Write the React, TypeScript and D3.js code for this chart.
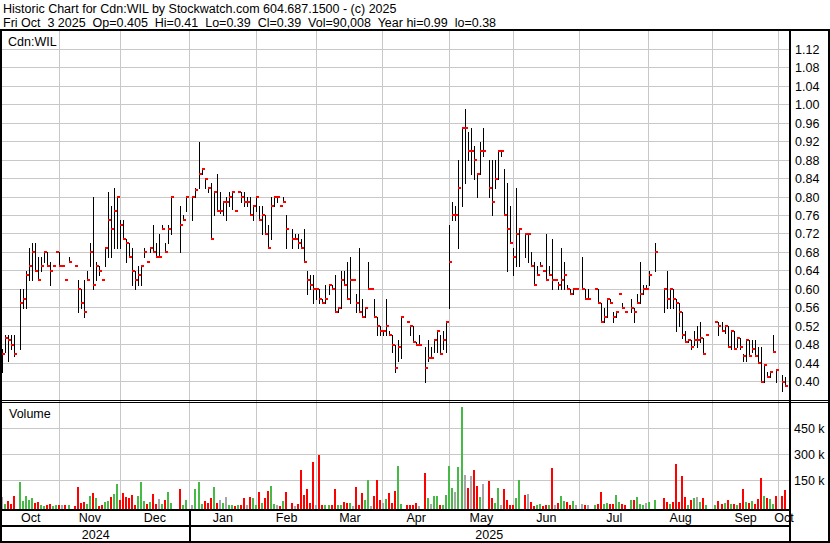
import * as d3 from "d3";

const WIDTH = 830;
const HEIGHT = 543;
const FONT = "'Liberation Sans', Arial, sans-serif";

const HEADER_LINE_1 = "Historic Chart for Cdn:WIL by Stockwatch.com 604.687.1500 - (c) 2025";
const HEADER_LINE_2 = "Fri Oct  3 2025  Op=0.405  Hi=0.41  Lo=0.39  Cl=0.39  Vol=90,008  Year hi=0.99  lo=0.38";
const SYMBOL = "Cdn:WIL";

// one slot per weekday, Oct 7 2024 .. Oct 3 2025; null = holiday / no trade
const FIRST_DAY = new Date(2024, 9, 7);
const LAST_DAY = new Date(2025, 9, 3);

const highs = [
  0.47, 0.5, 0.5, 0.5, 0.5, null, 0.6, 0.6, 0.64, 0.69,
  0.7, 0.7, 0.67, 0.67, 0.68, 0.68, 0.66, 0.65, 0.68, 0.68,
  0.65, 0.62, 0.67, null, 0.65, 0.62, 0.6, 0.62, 0.64, 0.7,
  0.8, 0.66, 0.65, 0.62, 0.69, 0.81, 0.78, 0.82, 0.8, 0.75,
  0.75, 0.71, 0.7, 0.69, 0.64, 0.65, 0.65, 0.69, 0.66, 0.69,
  0.74, 0.7, 0.72, 0.74, 0.7, 0.74, 0.8, null, null, 0.78,
  0.76, 0.8, null, 0.8, 0.82, 0.92, 0.86, 0.84, 0.82, 0.83,
  0.81, 0.85, 0.81, 0.79, 0.8, 0.81, 0.81, 0.77, 0.81, 0.81,
  0.81, 0.8, 0.8, 0.78, 0.8, 0.78, 0.78, 0.76, 0.74, 0.8,
  0.8, 0.8, 0.78, 0.8, 0.76, null, 0.73, 0.72, 0.72, 0.71,
  0.73, 0.64, 0.63, 0.63, 0.6, 0.6, 0.58, 0.61, 0.61, 0.61,
  0.63, 0.56, 0.64, 0.64, 0.66, 0.67, 0.62, 0.59, 0.69, 0.58,
  0.56, 0.66, 0.6, 0.58, 0.54, 0.52, 0.51, 0.58, 0.51, 0.5,
  0.48, 0.49, 0.54, null, 0.53, 0.52, 0.52, 0.485, 0.5, null,
  0.475, 0.49, 0.475, 0.49, 0.51, 0.5, 0.51, 0.53, 0.74, 0.79,
  0.78, 0.88, 0.95, 0.99, 0.94, 0.95, 0.91, 0.85, 0.92, 0.95,
  null, 0.88, 0.88, 0.88, 0.9, 0.9, 0.86, 0.83, 0.78, 0.69,
  0.82, 0.73, null, 0.72, 0.72, 0.68, 0.66, 0.65, 0.66, 0.64,
  0.72, 0.65, 0.71, 0.62, 0.615, 0.69, 0.66, 0.61, 0.6, 0.6,
  0.6, null, 0.67, 0.6, 0.6, null, 0.6, 0.6, 0.57, 0.56,
  0.58, 0.58, 0.55, 0.55, 0.59, 0.57, 0.55, null, 0.58, 0.56,
  0.59, 0.66, 0.61, 0.61, 0.64, null, 0.7, null, null, 0.6,
  0.64, 0.6, 0.6, 0.58, 0.57, 0.55, 0.51, 0.49, 0.49, 0.51,
  0.52, 0.53, 0.495, 0.5, null, null, 0.53, 0.53, 0.53, 0.52,
  0.52, 0.51, 0.51, 0.495, 0.495, 0.46, 0.49, 0.49, 0.49, 0.49,
  0.475, 0.475, 0.435, 0.42, 0.42, 0.5, 0.425, null, 0.415, 0.41,
];

const lows = [
  0.42, 0.465, 0.445, 0.47, 0.455, null, 0.47, 0.56, 0.56, 0.62,
  0.62, 0.64, 0.62, 0.64, 0.66, 0.65, 0.61, 0.65, 0.68, 0.65,
  0.65, 0.62, 0.66, null, 0.65, 0.55, 0.56, 0.54, 0.62, 0.65,
  0.6, 0.62, 0.63, 0.62, 0.65, 0.67, 0.67, 0.69, 0.69, 0.69,
  0.71, 0.66, 0.67, 0.61, 0.6, 0.61, 0.61, 0.67, 0.66, 0.68,
  0.68, 0.67, 0.67, 0.73, 0.68, 0.7, 0.72, null, null, 0.68,
  0.75, 0.77, null, 0.75, 0.8, 0.82, 0.85, 0.82, 0.81, 0.71,
  0.76, 0.77, 0.765, 0.76, 0.75, 0.78, 0.775, 0.77, 0.81, 0.79,
  0.78, 0.78, 0.76, 0.75, 0.77, 0.75, 0.72, 0.72, 0.69, 0.71,
  0.78, 0.79, 0.78, 0.79, 0.69, null, 0.69, 0.71, 0.69, 0.69,
  0.66, 0.59, 0.6, 0.57, 0.58, 0.57, 0.57, 0.57, 0.59, 0.6,
  0.55, 0.55, 0.56, 0.61, 0.58, 0.57, 0.62, 0.55, 0.55, 0.54,
  0.54, 0.6, 0.6, 0.54, 0.5, 0.5, 0.5, 0.5, 0.5, 0.465,
  0.42, 0.445, 0.45, null, 0.53, 0.5, 0.485, 0.48, 0.48, null,
  0.4, 0.445, 0.45, 0.465, 0.465, 0.46, 0.47, 0.465, 0.56, 0.75,
  0.75, 0.69, 0.78, 0.83, 0.88, 0.85, 0.84, 0.8, 0.85, 0.89,
  null, 0.8, 0.76, 0.82, 0.84, 0.89, 0.76, 0.64, 0.7, 0.63,
  0.65, 0.65, null, 0.67, 0.66, 0.65, 0.61, 0.63, 0.65, 0.64,
  0.62, 0.63, 0.6, 0.62, 0.6, 0.6, 0.6, 0.6, 0.59, 0.59,
  0.6, null, 0.6, 0.58, 0.58, null, 0.6, 0.57, 0.53, 0.53,
  0.54, 0.57, 0.53, 0.54, 0.59, 0.56, 0.55, null, 0.55, 0.53,
  0.57, 0.57, 0.59, 0.6, 0.61, null, 0.64, null, null, 0.55,
  0.56, 0.56, 0.56, 0.51, 0.52, 0.495, 0.485, 0.485, 0.47, 0.48,
  0.475, 0.485, 0.46, 0.5, null, null, 0.53, 0.5, 0.51, 0.505,
  0.475, 0.47, 0.47, 0.475, 0.47, 0.445, 0.445, 0.455, 0.465, 0.455,
  0.44, 0.4, 0.4, 0.41, 0.41, 0.465, 0.4, null, 0.38, 0.39,
];

const closes = [
  0.46, 0.495, 0.49, 0.48, 0.46, null, 0.57, 0.58, 0.63, 0.65,
  0.68, 0.64, 0.62, 0.65, 0.68, 0.65, 0.64, 0.65, 0.68, 0.65,
  0.65, 0.62, 0.66, null, 0.65, 0.6, 0.57, 0.55, 0.62, 0.68,
  0.61, 0.65, 0.64, 0.62, 0.69, 0.75, 0.73, 0.77, 0.8, 0.74,
  0.71, 0.7, 0.67, 0.64, 0.62, 0.63, 0.65, 0.68, 0.66, 0.69,
  0.68, 0.67, 0.67, 0.73, 0.68, 0.73, 0.8, null, null, 0.74,
  0.75, 0.8, null, 0.8, 0.815, 0.85, 0.86, 0.84, 0.82, 0.71,
  0.81, 0.77, 0.77, 0.79, 0.79, 0.8, 0.81, 0.77, 0.81, 0.8,
  0.79, 0.79, 0.76, 0.78, 0.8, 0.75, 0.76, 0.72, 0.69, 0.78,
  0.8, 0.8, 0.78, 0.79, 0.73, null, 0.71, 0.71, 0.7, 0.69,
  0.66, 0.62, 0.61, 0.6, 0.6, 0.58, 0.57, 0.58, 0.61, 0.6,
  0.55, 0.56, 0.62, 0.61, 0.58, 0.62, 0.62, 0.57, 0.55, 0.54,
  0.56, 0.6, 0.6, 0.54, 0.52, 0.51, 0.51, 0.52, 0.5, 0.48,
  0.43, 0.475, 0.54, null, 0.53, 0.52, 0.485, 0.48, 0.48, null,
  0.43, 0.45, 0.45, 0.49, 0.51, 0.46, 0.49, 0.53, 0.66, 0.76,
  0.76, 0.82, 0.95, 0.95, 0.9, 0.9, 0.88, 0.85, 0.9, 0.9,
  null, 0.82, 0.79, 0.84, 0.9, 0.9, 0.76, 0.73, 0.7, 0.67,
  0.72, 0.73, null, 0.72, 0.72, 0.65, 0.61, 0.63, 0.65, 0.64,
  0.62, 0.63, 0.62, 0.62, 0.61, 0.62, 0.63, 0.6, 0.59, 0.6,
  0.6, null, 0.6, 0.58, 0.58, null, 0.6, 0.57, 0.53, 0.54,
  0.58, 0.57, 0.54, 0.55, 0.59, 0.56, 0.55, null, 0.56, 0.55,
  0.57, 0.59, 0.6, 0.6, 0.63, null, 0.68, null, null, 0.6,
  0.58, 0.6, 0.58, 0.57, 0.55, 0.5, 0.485, 0.49, 0.475, 0.49,
  0.49, 0.495, 0.46, 0.5, null, null, 0.53, 0.52, 0.51, 0.52,
  0.475, 0.51, 0.47, 0.495, 0.475, 0.455, 0.49, 0.455, 0.47, 0.455,
  0.44, 0.4, 0.435, 0.41, 0.42, 0.465, 0.425, null, 0.4, 0.39,
];

// thousands of shares
const volumesK = [
  54, 12, 29, 12, 58, null, 138, 29, 58, 35,
  46, 19, 23, 4, 2, 6, 12, 2, 4, 6,
  4, 4, 6, null, 2, 110, 15, 25, 12, 58,
  75, 46, 2, 4, 23, 29, 52, 69, 127, 35,
  75, 52, 46, 63, 6, 58, 138, 29, 12, 23,
  69, 12, 40, 12, 35, 81, 17, null, null, 98,
  6, 35, null, 6, 98, 138, 12, 29, 17, 46,
  108, 17, 35, 17, 52, 6, 6, 2, 4, 6,
  46, 6, 52, 46, 6, 81, 17, 46, 87, 115,
  12, 6, 2, 29, 81, null, 17, 2, 12, 208,
  63, 98, 15, 256, 3, 294, 6, 3, 5, 6,
  98, 4, 5, 23, 15, 15, 2, 110, 6, 75,
  35, 150, 1, 60, 150, 35, 15, 40, 75, 15,
  87, 231, 13, null, 3, 5, 5, 15, 2, null,
  192, 44, 10, 58, 58, 4, 5, 61, 231, 104,
  81, 227, 569, 179, 104, 173, 208, 115, 54, 127,
  null, 146, 48, 15, 104, 5, 98, 35, 5, 5,
  44, 150, null, 63, 69, 23, 2, 6, 12, 1,
  6, 5, 219, 3, 15, 58, 27, 21, 6, 27,
  6, null, 12, 8, 4, null, 6, 12, 81, 12,
  17, 12, 12, 63, 23, 12, 4, null, 35, 35,
  52, 12, 6, 17, 25, null, 35, null, null, 48,
  23, 12, 23, 240, 23, 171, 54, 6, 35, 46,
  52, 23, 46, 6, null, null, 4, 29, 12, 17,
  35, 12, 12, 6, 17, 98, 23, 17, 29, 12,
  40, 163, 58, 46, 40, 12, 58, null, 58, 90,
];

const priceTicks = [0.4, 0.44, 0.48, 0.52, 0.56, 0.6, 0.64, 0.68, 0.72, 0.76, 0.8, 0.84, 0.88, 0.92, 0.96, 1.0, 1.04, 1.08, 1.12];
const volumeTicksK = [150, 300, 450];
const volumeTickLabels = ["150 k", "300 k", "450 k"];
const monthLabels = ["Oct", "Nov", "Dec", "Jan", "Feb", "Mar", "Apr", "May", "Jun", "Jul", "Aug", "Sep", "Oct"];
const yearLabels = ["2024", "2025"];

const PLOT_LEFT = 2;
const PLOT_RIGHT = 789;
const PRICE_TOP = 31;
const PRICE_BOTTOM = 400;
const VOL_TOP = 402;
const VOL_BASE = 509;
const MONTH_ROW = 511;
const YEAR_ROW = 527;
const GRID = "#c8c8c8";
const UP = "#46b946";
const DOWN = "#ff0000";
const FLAT = "#a6a6a6";

export default function App() {
  const days = d3.timeDay
    .range(FIRST_DAY, d3.timeDay.offset(LAST_DAY, 1))
    .filter((d) => d.getDay() % 6 !== 0);
  const dayIndex = new Map(days.map((d, i) => [+d, i]));

  const x = d3.scaleLinear().domain([0, days.length - 1]).range([2, 785]);
  const yPrice = d3.scaleLinear().domain([0.36, 1.16]).range([PRICE_BOTTOM, PRICE_TOP]);
  const yVol = d3.scaleLinear().domain([0, 600]).range([506, VOL_TOP]);

  // month boundaries: on the first weekday of the month, or just after the
  // last weekday when the 1st falls on a weekend
  const boundaries = d3.timeMonth.range(d3.timeMonth.ceil(FIRST_DAY), LAST_DAY).map((m) => {
    let day = m;
    let shifted = false;
    while (!dayIndex.has(+day)) {
      day = d3.timeDay.offset(day, -1);
      shifted = true;
    }
    return x(dayIndex.get(+day)! + (shifted ? 0.15 : 0));
  });
  const edges = [PLOT_LEFT, ...boundaries, PLOT_RIGHT];
  const yearSplit = boundaries[2];

  const bars = closes.map((c, i) => {
    if (c == null) return null;
    let prev: number | null = null;
    for (let j = i - 1; j >= 0; j--) {
      if (closes[j] != null) {
        prev = closes[j];
        break;
      }
    }
    const dir = prev == null || Math.abs(c - prev) < 1e-9 ? FLAT : c > prev ? UP : DOWN;
    return { i, x: Math.round(x(i)), hi: highs[i]!, lo: lows[i]!, c, v: volumesK[i] ?? 0, dir };
  }).filter((b) => b !== null);

  const text = { fontFamily: FONT, fontSize: 12.5, fill: "#000" };

  return (
    <svg
      width={WIDTH}
      height={HEIGHT}
      style={{ position: "absolute", left: 0, top: 0, background: "#fff" }}
    >
      <rect width={WIDTH} height={HEIGHT} fill="#fff" />

      <text x={3} y={12.5} {...text} style={{ whiteSpace: "pre" }}>{HEADER_LINE_1}</text>
      <text x={3} y={27} {...text} style={{ whiteSpace: "pre" }}>{HEADER_LINE_2}</text>

      {/* gridlines */}
      {priceTicks.map((t) => (
        <line key={`pg${t}`} x1={PLOT_LEFT} x2={PLOT_RIGHT} y1={Math.floor(yPrice(t)) + 0.5} y2={Math.floor(yPrice(t)) + 0.5} stroke={GRID} />
      ))}
      {volumeTicksK.map((t) => (
        <line key={`vg${t}`} x1={PLOT_LEFT} x2={PLOT_RIGHT} y1={Math.floor(yVol(t)) + 0.5} y2={Math.floor(yVol(t)) + 0.5} stroke={GRID} />
      ))}
      {boundaries.map((b, k) => (
        <line key={`mg${k}`} x1={Math.floor(b) + 0.5} x2={Math.floor(b) + 0.5} y1={PRICE_TOP} y2={VOL_BASE} stroke={GRID} />
      ))}

      <text x={8} y={45.5} {...text}>{SYMBOL}</text>
      <text x={9} y={418} {...text}>Volume</text>

      {/* volume */}
      {bars.map((b) => {
        const top = Math.round(yVol(b.v));
        return <rect key={`v${b.i}`} x={b.x - 1} y={top} width={2} height={VOL_BASE - top} fill={b.dir} />;
      })}

      {/* hi-lo bars with close tick */}
      {bars.map((b) => {
        const top = Math.round(yPrice(b.hi));
        const bottom = Math.round(yPrice(b.lo));
        return (
          <g key={`p${b.i}`}>
            <rect x={b.x} y={top} width={1} height={Math.max(1, bottom - top + 1)} fill="#000" />
            <rect x={b.x} y={Math.round(yPrice(b.c)) - 1} width={3} height={2} fill={DOWN} />
          </g>
        );
      })}

      {/* axis labels */}
      {priceTicks.map((t) => (
        <text key={`pl${t}`} x={795} y={Math.floor(yPrice(t)) + 5} {...text}>{t.toFixed(2)}</text>
      ))}
      {volumeTicksK.map((t, k) => (
        <text key={`vl${t}`} x={794} y={Math.floor(yVol(t)) + 5} {...text}>{volumeTickLabels[k]}</text>
      ))}
      {monthLabels.map((m, k) => (
        <text key={`ml${k}`} x={(edges[k] + edges[k + 1]) / 2} y={522} textAnchor="middle" {...text}>{m}</text>
      ))}
      <text x={(PLOT_LEFT + yearSplit) / 2} y={539} textAnchor="middle" {...text}>{yearLabels[0]}</text>
      <text x={(yearSplit + PLOT_RIGHT) / 2} y={539} textAnchor="middle" {...text}>{yearLabels[1]}</text>

      {/* frame */}
      <rect x={0} y={29} width={WIDTH} height={2} fill="#000" />
      <rect x={0} y={PRICE_BOTTOM} width={WIDTH} height={1} fill="#000" />
      <rect x={0} y={VOL_TOP} width={WIDTH} height={1} fill="#000" />
      <rect x={0} y={VOL_BASE} width={PLOT_RIGHT} height={2} fill="#000" />
      <rect x={0} y={YEAR_ROW - 2} width={PLOT_RIGHT} height={2} fill="#000" />
      <rect x={0} y={HEIGHT - 2} width={WIDTH} height={2} fill="#000" />
      <rect x={0} y={29} width={2} height={HEIGHT - 29} fill="#000" />
      <rect x={PLOT_RIGHT} y={29} width={2} height={HEIGHT - 29} fill="#000" />
      <rect x={WIDTH - 2} y={29} width={2} height={HEIGHT - 29} fill="#000" />
      <rect x={Math.floor(yearSplit)} y={MONTH_ROW} width={2} height={HEIGHT - MONTH_ROW} fill="#000" />
    </svg>
  );
}
